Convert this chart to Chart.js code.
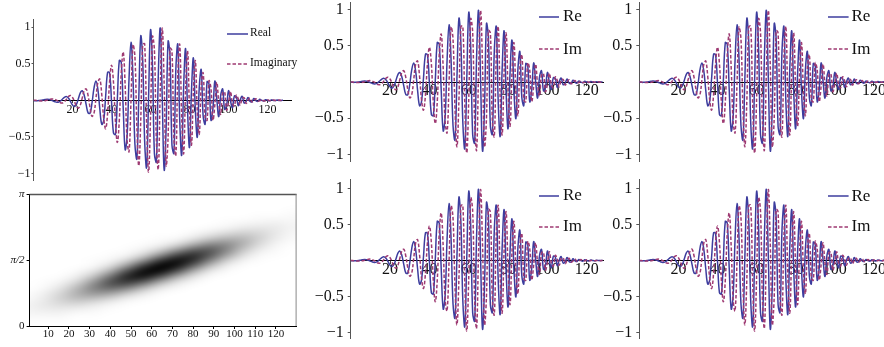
<!DOCTYPE html>
<html lang="en">
<head>
<meta charset="utf-8">
<title>Chirp signal</title>
<script src="https://cdn.jsdelivr.net/npm/chart.js@4.4.1/dist/chart.umd.min.js"></script>
<style>
  body { margin: 0; width: 884px; height: 347px; overflow: hidden; background: #fff; position: relative; }
  canvas { position: absolute; }
  .key { position: absolute; font-family: "Liberation Serif", serif; color: #111; white-space: nowrap; }
  svg { position: absolute; overflow: visible; }
</style>
</head>
<body>
<canvas id="c1" width="300" height="182" style="left:0;top:0"></canvas>
<canvas id="c6" width="300" height="167" style="left:0;top:180px"></canvas>
<canvas id="c2" width="310" height="175" style="left:300px;top:0"></canvas>
<canvas id="c3" width="300" height="175" style="left:600px;top:0"></canvas>
<canvas id="c4" width="310" height="172" style="left:300px;top:175px"></canvas>
<canvas id="c5" width="300" height="172" style="left:600px;top:175px"></canvas>
<script>
// signal samples n = 0..128
var reValues = [-0.004,-0.005,-0.005,-0.003,0.000,0.005,0.010,0.013,0.011,0.004,
  -0.008,-0.020,-0.027,-0.023,-0.006,0.021,0.044,0.050,0.028,-0.017,
  -0.065,-0.085,-0.055,0.021,0.102,0.131,0.070,-0.058,-0.172,-0.175,
  -0.036,0.163,0.263,0.154,-0.115,-0.328,-0.272,0.055,0.382,0.378,
  -0.012,-0.446,-0.466,0.019,0.543,0.517,-0.107,-0.672,-0.490,0.305,
  0.791,0.320,-0.597,-0.798,0.047,0.876,0.545,-0.558,-0.916,0.033,
  0.958,0.485,-0.724,-0.839,0.344,0.985,0.055,-0.950,-0.379,0.802,
  0.603,-0.613,-0.720,0.429,0.761,-0.286,-0.746,0.191,0.703,-0.136,
  -0.643,0.126,0.576,-0.141,-0.501,0.177,0.419,-0.217,-0.324,0.254,
  0.222,-0.271,-0.113,0.262,0.012,-0.222,0.072,0.154,-0.122,-0.072,
  0.132,-0.006,-0.102,0.058,0.049,-0.073,0.005,0.054,-0.037,-0.017,
  0.040,-0.014,-0.020,0.025,-0.004,-0.015,0.015,-0.001,-0.010,0.009,
  0.000,-0.006,0.006,-0.001,-0.003,0.004,-0.001,-0.001,0.002];
var imValues = [0.002,0.000,-0.003,-0.006,-0.008,-0.008,-0.005,0.002,0.010,0.017,
  0.019,0.012,-0.002,-0.021,-0.036,-0.036,-0.016,0.019,0.054,0.066,
  0.041,-0.017,-0.081,-0.107,-0.065,0.034,0.133,0.156,0.063,-0.100,
  -0.218,-0.179,0.021,0.243,0.290,0.080,-0.243,-0.388,-0.177,0.244,
  0.480,0.250,-0.279,-0.574,-0.270,0.375,0.661,0.202,-0.545,-0.698,
  -0.002,0.754,0.599,-0.348,-0.893,-0.263,0.759,0.770,-0.306,-0.978,
  -0.240,0.868,0.688,-0.544,-0.937,0.138,0.985,0.229,-0.887,-0.508,
  0.709,0.674,-0.521,-0.750,0.352,0.758,-0.233,-0.726,0.155,0.675,
  -0.127,-0.610,0.128,0.540,-0.158,-0.460,0.195,0.373,-0.237,-0.273,
  0.264,0.167,-0.270,-0.060,0.246,-0.034,-0.191,0.103,0.114,-0.133,
  -0.031,0.121,-0.037,-0.077,0.071,0.021,-0.067,0.025,0.036,-0.042,
  0.001,0.031,-0.023,-0.007,0.022,-0.012,-0.007,0.014,-0.007,-0.005,
  0.009,-0.004,-0.002,0.005,-0.003,-0.001,0.003,-0.002,0.000];
var sampleIndex = reValues.map(function (v, i) { return i; });

var waveXTicks = [20, 40, 60, 80, 100, 120];
var waveYTicks = [-1, -0.5, 0.5, 1];
var waveYTickLabels = ['\u22121', '\u22120.5', '0.5', '1'];

// time-frequency density, one column per x in densityX, rows 0..pi in 24 steps
var densityX = [0, 8, 16, 24, 32, 40, 48, 56, 64, 72, 80, 88, 96, 104, 112, 120, 128];
var densityGrid = [
  [0.01,0.01,0.03,0.04,0.04,0.02,0.01,0,0,0,0,0,0,0,0,0,0,0,0,0,0,0,0,0,0],
  [0,0.01,0.03,0.06,0.08,0.07,0.05,0.02,0.01,0,0,0,0,0,0,0,0,0,0,0,0,0,0,0,0],
  [0,0.01,0.03,0.07,0.12,0.16,0.14,0.09,0.04,0.01,0,0,0,0,0,0,0,0,0,0,0,0,0,0,0],
  [0,0,0.01,0.05,0.13,0.23,0.28,0.24,0.14,0.06,0.02,0,0,0,0,0,0,0,0,0,0,0,0,0,0],
  [0,0,0.01,0.03,0.09,0.22,0.37,0.44,0.37,0.21,0.09,0.02,0.01,0,0,0,0,0,0,0,0,0,0,0,0],
  [0,0,0,0.01,0.04,0.15,0.34,0.55,0.63,0.50,0.28,0.11,0.03,0.01,0,0,0,0,0,0,0,0,0,0,0],
  [0,0,0,0,0.01,0.06,0.21,0.47,0.73,0.81,0.63,0.34,0.13,0.03,0.01,0,0,0,0,0,0,0,0,0,0],
  [0,0,0,0,0,0.02,0.09,0.27,0.58,0.88,0.93,0.70,0.36,0.13,0.04,0.01,0,0,0,0,0,0,0,0,0],
  [0,0,0,0,0,0,0.02,0.10,0.30,0.64,0.94,0.97,0.70,0.35,0.13,0.03,0.01,0,0,0,0,0,0,0,0],
  [0,0,0,0,0,0,0,0.03,0.11,0.32,0.65,0.91,0.90,0.63,0.31,0.10,0.02,0,0,0,0,0,0,0,0],
  [0,0,0,0,0,0,0,0,0.03,0.11,0.30,0.58,0.79,0.76,0.52,0.24,0.08,0.02,0,0,0,0,0,0,0],
  [0,0,0,0,0,0,0,0,0,0.02,0.09,0.25,0.47,0.62,0.58,0.38,0.17,0.06,0.01,0,0,0,0,0,0],
  [0,0,0,0,0,0,0,0,0,0,0.02,0.07,0.19,0.35,0.44,0.39,0.24,0.11,0.03,0.01,0,0,0,0,0],
  [0,0,0,0,0,0,0,0,0,0,0,0.01,0.05,0.13,0.22,0.28,0.24,0.15,0.06,0.02,0,0,0,0,0],
  [0,0,0,0,0,0,0,0,0,0,0,0,0.01,0.03,0.08,0.13,0.16,0.13,0.08,0.03,0.01,0,0,0,0],
  [0,0,0,0,0,0,0,0,0,0,0,0,0,0.01,0.02,0.04,0.07,0.08,0.07,0.04,0.01,0,0,0,0],
  [0,0,0,0,0,0,0,0,0,0,0,0,0,0,0,0.01,0.02,0.03,0.04,0.03,0.02,0.01,0,0,0]
];
var densityY = densityGrid[0].map(function (v, j) { return j * Math.PI / 24; });
var densityXTicks = [10, 20, 30, 40, 50, 60, 70, 80, 90, 100, 110, 120];
var densityYTicks = [0, Math.PI / 2, Math.PI];
var densityYTickLabels = ['0', '\u03c0/2', '\u03c0'];

var reColor = '#3d3d9e';
var imColor = '#9e3a72';
var serif = '"Liberation Serif", "DejaVu Serif", serif';

var panels = [
  { id: 'c1', left: 0, top: 0, axisW: 33.5, pad: { top: 19.7, right: 8.3, bottom: 1.8 },
    xMax: 132.4, yMin: -1.09, yMax: 1.1, font: 12, yPad: 1, yTl: 2, xTl: 2, xPad: 0.6,
    names: ['Real', 'Imaginary'], key: { x1: 227, x2: 248, y: [34, 63.5], tx: 250, size: 11.5 } },
  { id: 'c2', left: 300, top: 0, axisW: 50.7, pad: { top: 2.25, right: 6.9, bottom: 13.25 },
    xMax: 128.3, yMin: -1.1, yMax: 1.1, font: 16, yPad: 4, yTl: 3, xTl: 3, xPad: -3.6,
    names: ['Re', 'Im'], key: { x1: 539.3, x2: 559.3, y: [16.7, 49.3], tx: 563, size: 17 } },
  { id: 'c3', left: 600, top: 0, axisW: 39.3, pad: { top: 2.25, right: 9.9, bottom: 13.25 },
    xMax: 128.3, yMin: -1.1, yMax: 1.1, font: 16, yPad: 4, yTl: 3, xTl: 3, xPad: -3.6,
    names: ['Re', 'Im'], key: { x1: 827.7, x2: 848.3, y: [16.7, 49.3], tx: 851.5, size: 17 } },
  { id: 'c4', left: 300, top: 175, axisW: 50.7, pad: { top: 4.86, right: 6.9, bottom: 8.74 },
    xMax: 128.3, yMin: -1.08, yMax: 1.12, font: 16, yPad: 4, yTl: 3, xTl: 3, xPad: -3.6,
    names: ['Re', 'Im'], key: { x1: 539, x2: 559, y: [195.7, 226.5], tx: 563, size: 17 } },
  { id: 'c5', left: 600, top: 175, axisW: 39.3, pad: { top: 4.86, right: 9.9, bottom: 8.74 },
    xMax: 128.3, yMin: -1.08, yMax: 1.12, font: 16, yPad: 4, yTl: 3, xTl: 3, xPad: -3.6,
    names: ['Re', 'Im'], key: { x1: 827.7, x2: 848.3, y: [196, 226.5], tx: 851.5, size: 17 } }
];

function addKey(p) {
  var colors = [reColor, imColor];
  p.names.forEach(function (name, k) {
    var y = p.key.y[k];
    var w = p.key.x2 - p.key.x1;
    var dash = k === 1 ? ' stroke-dasharray="3.5,2"' : '';
    document.body.insertAdjacentHTML('beforeend',
      '<svg width="' + w + '" height="4" style="left:' + p.key.x1 + 'px;top:' + (y - 2) + 'px">' +
      '<line x1="0" y1="2" x2="' + w + '" y2="2" stroke="' + colors[k] + '" stroke-width="1.5"' + dash + '/></svg>' +
      '<div class="key" style="left:' + p.key.tx + 'px;top:' + (y - 1 - p.key.size / 2) + 'px;font-size:' +
      p.key.size + 'px;line-height:' + p.key.size + 'px">' + name + '</div>');
  });
}

function makeWave(p) {
  new Chart(document.getElementById(p.id), {
    type: 'line',
    data: {
      labels: sampleIndex,
      datasets: [
        { label: p.names[0], data: reValues, borderColor: reColor, borderWidth: 1.5,
          pointRadius: 0, tension: 0.4, fill: false, order: 2 },
        { label: p.names[1], data: imValues, borderColor: imColor, borderWidth: 1.5,
          borderDash: [3.5, 2], pointRadius: 0, tension: 0.4, fill: false, order: 1 }
      ]
    },
    options: {
      responsive: false,
      animation: false,
      devicePixelRatio: 1,
      layout: { padding: { left: 0, right: p.pad.right, top: p.pad.top, bottom: p.pad.bottom } },
      plugins: { legend: { display: false }, tooltip: { enabled: false } },
      scales: {
        x: {
          type: 'linear', min: 0, max: p.xMax, position: { y: 0 },
          border: { color: '#000', width: 1 },
          grid: { display: true, drawOnChartArea: false, drawTicks: true, tickLength: p.xTl, color: '#444' },
          ticks: { autoSkip: false, maxRotation: 0, padding: p.xPad, color: '#111',
                   font: { family: serif, size: p.font } },
          afterBuildTicks: function (s) { s.ticks = waveXTicks.map(function (v) { return { value: v }; }); },
          afterFit: function (s) { s.paddingLeft = 0; s.paddingRight = 0; s.paddingTop = 0; s.paddingBottom = 0; }
        },
        y: {
          type: 'linear', min: p.yMin, max: p.yMax, position: 'left',
          border: { color: '#555', width: 1 },
          grid: { display: true, drawOnChartArea: false, drawTicks: true, tickLength: p.yTl, color: '#555' },
          ticks: { autoSkip: false, padding: p.yPad, color: '#111', font: { family: serif, size: p.font },
                   callback: function (v) { return waveYTickLabels[waveYTicks.indexOf(v)]; } },
          afterBuildTicks: function (s) { s.ticks = waveYTicks.map(function (v) { return { value: v }; }); },
          afterFit: function (s) { s.width = p.axisW; s.paddingTop = 0; s.paddingBottom = 0; }
        }
      }
    }
  });
  addKey(p);
}

panels.forEach(makeWave);

// density plot drawn from the grid through the chart scales
var densityImage = {
  id: 'densityImage',
  beforeDraw: function (chart) {
    var ctx = chart.ctx, area = chart.chartArea, xs = chart.scales.x, ys = chart.scales.y;
    var cols = densityGrid.length, rows = densityGrid[0].length;
    var off = document.createElement('canvas');
    off.width = cols; off.height = rows;
    var octx = off.getContext('2d');
    var img = octx.createImageData(cols, rows);
    densityGrid.forEach(function (col, i) {
      col.forEach(function (d, j) {
        var k = ((rows - 1 - j) * cols + i) * 4;
        var g = Math.round(255 * Math.pow(1 - d, 1.15));
        img.data[k] = g; img.data[k + 1] = g; img.data[k + 2] = g; img.data[k + 3] = 255;
      });
    });
    octx.putImageData(img, 0, 0);
    var hx = (densityX[1] - densityX[0]) / 2, hy = (densityY[1] - densityY[0]) / 2;
    var x0 = xs.getPixelForValue(densityX[0] - hx), x1 = xs.getPixelForValue(densityX[cols - 1] + hx);
    var y0 = ys.getPixelForValue(densityY[rows - 1] + hy), y1 = ys.getPixelForValue(densityY[0] - hy);
    ctx.save();
    ctx.beginPath();
    ctx.rect(area.left, area.top, area.right - area.left, area.bottom - area.top);
    ctx.clip();
    ctx.imageSmoothingEnabled = true;
    ctx.imageSmoothingQuality = 'high';
    ctx.filter = 'blur(2px)';
    ctx.drawImage(off, x0, y0, x1 - x0, y1 - y0);
    ctx.restore();
  },
  afterDraw: function (chart) {
    var ctx = chart.ctx, a = chart.chartArea;
    ctx.save();
    ctx.lineWidth = 1.4;
    ctx.strokeStyle = '#555';
    ctx.beginPath(); ctx.moveTo(a.left, a.top + 0.5); ctx.lineTo(a.right, a.top + 0.5); ctx.stroke();
    ctx.lineWidth = 1;
    ctx.strokeStyle = '#888';
    ctx.beginPath(); ctx.moveTo(a.right - 0.5, a.top); ctx.lineTo(a.right - 0.5, a.bottom); ctx.stroke();
    ctx.restore();
  }
};

new Chart(document.getElementById('c6'), {
  type: 'scatter',
  data: { datasets: [] },
  options: {
    responsive: false,
    animation: false,
    devicePixelRatio: 1,
    layout: { padding: { left: 0, right: 3.4, top: 14, bottom: 0 } },
    plugins: { legend: { display: false }, tooltip: { enabled: false } },
    scales: {
      x: {
        type: 'linear', min: 1, max: 130, position: 'bottom',
        border: { color: '#000', width: 1 },
        grid: { display: true, drawOnChartArea: false, drawTicks: true, tickLength: 3, color: '#000' },
        ticks: { autoSkip: false, maxRotation: 0, padding: -1.5, color: '#111', font: { family: serif, size: 11 } },
        afterBuildTicks: function (s) { s.ticks = densityXTicks.map(function (v) { return { value: v }; }); },
        afterFit: function (s) { s.height = 21; s.paddingLeft = 0; s.paddingRight = 0; }
      },
      y: {
        type: 'linear', min: 0, max: Math.PI, position: 'left',
        border: { color: '#000', width: 1 },
        grid: { display: true, drawOnChartArea: false, drawTicks: true, tickLength: 3, color: '#000' },
        ticks: { autoSkip: false, padding: 2, color: '#111',
                 font: function (c) { return { family: serif, size: 11, style: c.tick && c.tick.value > 0 ? 'italic' : 'normal' }; },
                 callback: function (v, i) { return densityYTickLabels[i]; } },
        afterBuildTicks: function (s) { s.ticks = densityYTicks.map(function (v) { return { value: v }; }); },
        afterFit: function (s) { s.width = 29.6; s.paddingTop = 0; s.paddingBottom = 0; }
      }
    }
  },
  plugins: [densityImage]
});
</script>
</body>
</html>
